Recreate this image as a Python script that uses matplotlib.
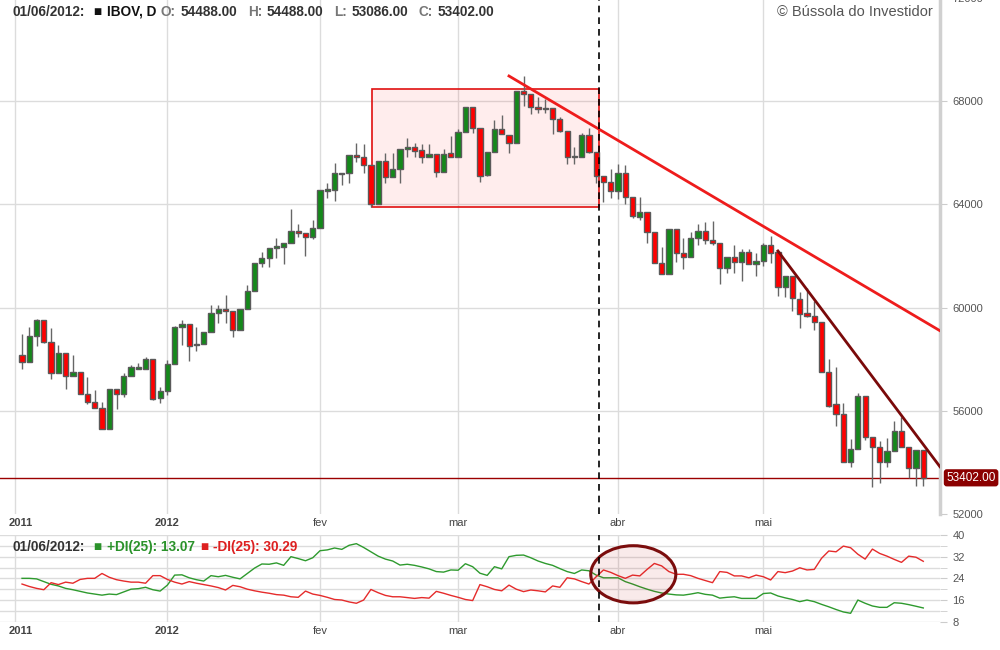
import numpy as np
import matplotlib.pyplot as plt
import matplotlib.transforms as mtransforms
from matplotlib.patches import Rectangle, Ellipse

plt.rcParams['font.family'] = ['Liberation Sans', 'DejaVu Sans']

# IBOV daily candles, dez/2011 .. 01/06/2012
opens = [58150, 57880, 58900, 59500, 58650, 57450, 58230, 57340, 57490, 56640,
         56330, 56100, 55280, 56830, 56640, 57340, 57630, 57630, 57990, 56510,
         56750, 57810, 59230, 59350, 58540, 58590, 59070, 59780, 59960, 59880,
         59130, 59930, 60640, 61710, 61910, 62290, 62360, 62490, 62960, 62870,
         62740, 63070, 64520, 64550, 65180, 65200, 65910, 65820, 65520, 64000,
         65690, 65040, 65350, 66150, 66210, 66100, 65820, 65940, 65240, 65970,
         65820, 66800, 67760, 66940, 65120, 66020, 66900, 66670, 66360, 68390,
         68260, 67760, 67720, 67720, 67290, 66850, 65830, 65820, 66670, 66010,
         65080, 64850, 64500, 65200, 64290, 63490, 63690, 62910, 61710, 61300,
         63030, 62100, 61950, 62680, 62980, 62620, 62490, 61520, 61970, 61750,
         62160, 61670, 61800, 62410, 62160, 60810, 61220, 60320, 59780, 59680,
         59430, 57510, 56250, 55860, 54030, 54510, 56570, 55000, 54610, 54030,
         54440, 55220, 54610, 53770, 54488]
highs = [58970, 59230, 59550, 59500, 59190, 58540, 58230, 58160, 57490, 57320,
         56800, 56350, 56830, 56830, 57450, 57770, 57840, 58090, 57990, 56910,
         57970, 59280, 59520, 59350, 59230, 59070, 60100, 60100, 60480, 59880,
         59930, 60870, 61710, 62160, 62290, 62680, 62510, 63800, 63240, 62870,
         63390, 64550, 64840, 65610, 65210, 65910, 66390, 66330, 65520, 65690,
         66000, 66000, 66130, 66560, 66360, 66330, 66330, 65940, 66130, 66640,
         66900, 67760, 67760, 66940, 66030, 67260, 67450, 66670, 68390, 68970,
         68260, 68140, 68070, 67720, 67390, 66850, 66230, 66750, 66940, 66010,
         65080, 65350, 65560, 65520, 64290, 64270, 63690, 62910, 62330, 63030,
         63030, 62680, 62940, 63240, 63320, 63360, 62490, 61950, 62420, 62260,
         62260, 62100, 62500, 62770, 62230, 61220, 61220, 60610, 60740, 60260,
         59430, 57990, 57710, 56290, 54910, 56680, 56570, 55000, 54840, 54930,
         55600, 55770, 54610, 54480, 54488]
lows = [57610, 57880, 58510, 58610, 57240, 57450, 56830, 57340, 56640, 56250,
        56100, 55280, 55280, 56060, 56540, 57340, 57630, 57630, 56420, 56290,
        56610, 57810, 58550, 57940, 58330, 58590, 59070, 59410, 59410, 58870,
        59130, 59930, 60640, 61560, 61580, 61910, 61670, 62490, 62740, 62000,
        62640, 63070, 64230, 64140, 64750, 64810, 65650, 65200, 63910, 64000,
        64810, 65040, 64810, 65820, 65820, 65590, 65820, 65070, 65240, 65820,
        65820, 66800, 66750, 64870, 65090, 66020, 66710, 65970, 66360, 67810,
        67490, 67520, 67550, 66710, 66800, 65550, 65550, 65820, 65970, 64810,
        64100, 64230, 64200, 64010, 63460, 63390, 62490, 61710, 61300, 61300,
        61770, 61480, 61950, 62420, 62460, 62420, 60910, 61350, 61350, 61040,
        61670, 61220, 61590, 61740, 60450, 60410, 59880, 59190, 59640, 59130,
        57510, 56130, 55410, 54030, 53830, 54510, 54870, 53060, 53190, 53830,
        54440, 54610, 53380, 53090, 53086]
closes = [57880, 58900, 59500, 58650, 57450, 58230, 57340, 57490, 56640, 56330,
          56100, 55280, 56830, 56640, 57340, 57680, 57680, 57990, 56470, 56750,
          57810, 59230, 59350, 58520, 58590, 59070, 59780, 59930, 59880, 59130,
          59930, 60640, 61710, 61910, 62290, 62380, 62490, 62960, 62870, 62740,
          63070, 64550, 64580, 65200, 65210, 65910, 65820, 65520, 64000, 65690,
          65040, 65350, 66130, 66210, 66070, 65820, 65940, 65240, 65940, 65820,
          66800, 67760, 66940, 65090, 66020, 66900, 66710, 66360, 68390, 68260,
          67760, 67680, 67680, 67290, 66850, 65820, 65820, 66670, 66010, 65090,
          64850, 64500, 65200, 64270, 63550, 63690, 62910, 61710, 61300, 63030,
          62100, 61950, 62680, 62980, 62620, 62490, 61520, 61950, 61750, 62160,
          61670, 61800, 62410, 62100, 60810, 61220, 60360, 59750, 59680, 59430,
          57510, 56200, 55860, 54030, 54510, 56570, 55000, 54610, 54030, 54440,
          55220, 54610, 53770, 54480, 53402]

# DMI(25)
plus_di = [24.0, 24.0, 23.8, 22.8, 21.8, 21.2, 20.3, 19.8, 19.2, 18.6,
           18.2, 17.8, 18.2, 18.0, 19.0, 20.0, 20.2, 20.7, 19.8, 19.3,
           21.5, 25.2, 25.3, 24.2, 23.5, 23.0, 25.0, 24.6, 25.1, 24.4,
           23.8, 25.8, 27.8, 29.3, 29.2, 29.7, 28.8, 32.0, 31.3, 30.5,
           31.6, 34.2, 34.5, 35.2, 34.7, 36.2, 36.8, 35.4, 33.8, 32.2,
           31.1, 30.4, 28.9, 29.2, 28.8, 28.2, 27.5, 26.5, 26.3, 27.1,
           27.0, 29.4, 28.3, 25.9, 25.1, 28.3, 27.5, 32.0, 32.5, 32.6,
           31.6, 30.4, 29.5, 28.8, 27.6, 26.5, 25.8, 27.1, 26.8, 25.2,
           24.2, 24.2, 24.2, 22.8, 21.9, 20.9, 20.0, 19.2, 18.6, 18.2,
           17.9, 17.8, 18.2, 18.7, 18.1, 17.8, 16.7, 17.0, 17.2, 16.6,
           16.6, 16.6, 18.4, 18.6, 17.5, 16.8, 16.2, 15.4, 16.0, 15.4,
           14.4, 13.5, 12.5, 11.6, 11.1, 16.0, 14.8, 13.8, 13.3, 13.3,
           15.0, 14.8, 14.3, 13.7, 13.07]
minus_di = [21.9, 21.0, 20.3, 19.8, 22.4, 21.7, 22.6, 22.2, 23.6, 24.0,
            24.0, 25.8, 24.4, 23.5, 23.0, 22.6, 22.6, 22.2, 25.0, 25.0,
            23.6, 22.6, 21.9, 22.8, 22.2, 21.7, 21.2, 20.6, 19.7, 21.4,
            20.9, 20.0, 19.4, 18.9, 18.5, 18.0, 17.8, 17.2, 17.0, 19.3,
            18.2, 17.7, 17.0, 16.2, 16.0, 15.3, 14.8, 16.0, 19.9, 18.7,
            17.7, 17.2, 17.2, 16.9, 16.6, 16.9, 16.7, 19.2, 18.5, 17.7,
            17.0, 16.2, 15.8, 21.7, 20.9, 19.9, 19.4, 21.5, 20.0, 19.1,
            19.7, 19.4, 19.0, 21.2, 20.7, 24.2, 23.8, 22.8, 21.9, 24.6,
            27.1, 26.2, 25.0, 24.0, 25.2, 24.9, 27.3, 29.5, 28.6, 26.5,
            25.5, 25.5, 25.0, 24.0, 23.2, 22.4, 26.5, 26.2, 24.9, 24.9,
            24.2, 25.2, 24.6, 23.4, 26.5, 26.1, 26.7, 27.9, 27.1, 27.3,
            31.4, 34.1, 33.8, 35.9, 35.3, 32.9, 31.1, 34.8, 33.2, 32.2,
            31.0, 29.9, 32.2, 31.8, 30.29]

month_idx = [-1, 20, 41, 60, 82, 102]
month_lbl = ['2011', '2012', 'fev', 'mar', 'abr', 'mai']

# drawings on the chart (candle index, price)
box_x = (48.1, 79.4)
box_y = (63900, 68470)
marker_x = 79.4
line1 = ([67.0, 126.3], [68970, 59100])
line2 = ([104.0, 126.3], [62190, 53830])
circle = (84.1, 25.5, 11.7, 21.1)

o = np.array(opens)
h = np.array(highs)
l = np.array(lows)
c = np.array(closes)
x = np.arange(len(c))

fig = plt.figure(figsize=(10, 6.5), dpi=100)
ax = fig.add_axes([0, 1 - 514/650, 0.94, 516.2/650])
ax2 = fig.add_axes([0, 1 - 621.7/650, 0.94, 86.7/650])

grid_c = '#dcdcdc'
for a in (ax, ax2):
    a.set_xlim(-3.03, 126.3)
    a.set_xticks(month_idx)
    a.set_xticklabels(month_lbl)
    for s in ['top', 'left', 'bottom', 'right']:
        a.spines[s].set_visible(False)
    a.grid(axis='x', color=grid_c, lw=1)
    a.set_axisbelow(True)
    a.yaxis.tick_right()
    a.tick_params(axis='x', length=0, pad=3, labelsize=8, labelcolor='#444')
    a.tick_params(axis='y', which='both', length=5, color='#cccccc', pad=4,
                  labelsize=8, labelcolor='#555')
    labels = a.get_xticklabels()
    for lbl in labels[:2]:
        lbl.set_fontweight('bold')
    # first label sits a little right of its grid line, like the original
    labels[0].set_transform(labels[0].get_transform() +
                            mtransforms.ScaledTranslation(6/100, 0, fig.dpi_scale_trans))
    a.axvline(marker_x, color='black', ls=(0, (4, 3)), lw=1.2, zorder=6)

# price panel
ax.set_ylim(52000, 72000)
ax.set_yticks(range(52000, 72001, 4000))
ax.grid(axis='y', color=grid_c, lw=1)
ax.get_ygridlines()[0].set_visible(False)
ax.spines['right'].set_visible(True)
ax.spines['right'].set_color('#d0d0d0')
ax.spines['right'].set_linewidth(2.5)

ax.add_patch(Rectangle((box_x[0], box_y[0]), box_x[1] - box_x[0], box_y[1] - box_y[0],
                       fc=(1, 0, 0, 0.07), ec='#e01010', lw=1.2, zorder=2))

up = c >= o
ax.vlines(x, l, h, color='#666666', lw=1, zorder=3)
ax.bar(x, np.maximum(np.abs(c - o), 40), 0.72, bottom=np.minimum(o, c),
       color=np.where(up, '#14891a', '#ff0000'), edgecolor='#5a5a5a',
       linewidth=1, zorder=4)

ax.plot(*line1, color='#ee1c1c', lw=2, zorder=5)
ax.plot(*line2, color='#7a0a0a', lw=2, zorder=5)
ax.axhline(c[-1], color='#9b0000', lw=1, zorder=2)

trans = mtransforms.blended_transform_factory(ax.transAxes, ax.transData)
ax.text(1.0068, c[-1], f"{c[-1]:.2f}", transform=trans, ha='left', va='center',
        color='white', fontsize=8.5, clip_on=False,
        bbox=dict(boxstyle='round,pad=0.22,rounding_size=0.25', fc='#8b0000', ec='none'))

# DMI panel
ax2.set_ylim(8, 40)
ax2.set_yticks(range(8, 41, 8))
ax2.set_yticks(range(8, 41, 4), minor=True)
ax2.grid(axis='y', which='both', color=grid_c, lw=1)
ax2.plot(x, plus_di, color='#2e9a2e', lw=1, zorder=4)
ax2.plot(x, minus_di, color='#e52b2b', lw=1, zorder=4)
ax2.add_patch(Ellipse(circle[:2], circle[2], circle[3], fc=(0.75, 0.1, 0.1, 0.09),
                      ec='#7b0d0d', lw=2.2, zorder=5))


def header(x0, y0, parts, size=9.8):
    s, col, _ = parts[0]
    t = fig.text(x0 / 1000, 1 - y0 / 650, s, color=col, fontsize=size,
                 fontweight='bold', va='center')
    for s, col, gap in parts[1:]:
        t = fig.add_artist(plt.Annotation(s, xy=(1, 0), xycoords=t, xytext=(gap, 0),
                                          textcoords='offset points', va='bottom',
                                          color=col, fontsize=size,
                                          fontweight='bold'))


date = '01/06/2012:'
header(12.7, 12, [(date, '#333333', 0), ('■', '#111111', 6),
                  ('IBOV, D', '#111111', 3.5), ('O:', '#777777', 3.5),
                  (f'{o[-1]:.2f}', '#333333', 3.5), ('H:', '#777777', 7.5),
                  (f'{h[-1]:.2f}', '#333333', 3.5), ('L:', '#777777', 7.5),
                  (f'{l[-1]:.2f}', '#333333', 3.5), ('C:', '#777777', 7.5),
                  (f'{c[-1]:.2f}', '#333333', 3.5)])
header(12.7, 547, [(date, '#333333', 0), ('■', '#2a922a', 6),
                   (f'+DI(25): {plus_di[-1]:.2f}', '#2a922a', 3.5),
                   ('■', '#dd2020', 4), (f'-DI(25): {minus_di[-1]:.2f}', '#dd2020', 3.5)])

fig.text(0.933, 1 - 12/650, '© Bússola do Investidor', ha='right', va='center',
         color='#555555', fontsize=10.5)

fig.savefig('out.png', dpi=100)
